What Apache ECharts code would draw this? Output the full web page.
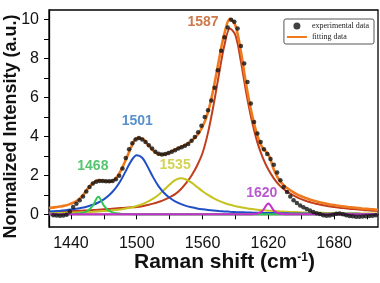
<!DOCTYPE html>
<html>
<head>
<meta charset="utf-8">
<script src="https://cdn.jsdelivr.net/npm/echarts@6/dist/echarts.min.js"></script>
<style>
  html, body { margin: 0; padding: 0; background: #fff; }
  #chart { width: 380px; height: 283px; }
</style>
</head>
<body>
<div id="chart"></div>
<script>
// Raman shift grid (cm-1) used by the fitted curves
const xs = [1420,1425,1430,1435,1440,1445,1450,1455,1460,1465,1470,1475,1480,1485,1490,1495,1500,1505,1510,1515,
  1520,1525,1530,1535,1540,1545,1550,1555,1560,1565,1570,1575,1580,1585,1590,1595,1600,1605,1610,1615,
  1620,1625,1630,1635,1640,1645,1650,1655,1660,1665,1670,1675,1680,1685,1690,1695,1700,1705,1710,1715,1720];

// fitted components
const peak1468 = [0.005,0.006,0.008,0.01,0.02,0.035,0.07,0.17,0.45,0.9,0.45,0.17,0.07,0.035,0.02,0.012,0.008,0.006,0.005,0.004,
  0.004,0.004,0.004,0.004,0.004,0.004,0.004,0.004,0.004,0.003,0.003,0.003,0.003,0.003,0.003,0.003,0.003,0.003,0.003,0.003,
  0.003,0.003,0.003,0.003,0.003,0.002,0.002,0.002,0.002,0.002,0.002,0.002,0.002,0.002,0.002,0.002,0.002,0.002,0.002,0.002,0.002];
const peak1501 = [0.144,0.162,0.184,0.211,0.244,0.286,0.338,0.405,0.493,0.61,0.77,0.99,1.29,1.70,2.22,2.75,3.04,2.91,2.44,1.90,
  1.44,1.10,0.85,0.67,0.536,0.437,0.363,0.305,0.26,0.224,0.194,0.17,0.151,0.134,0.12,0.108,0.098,0.089,0.081,0.074,
  0.068,0.063,0.058,0.054,0.05,0.047,0.044,0.041,0.039,0.036,0.034,0.032,0.031,0.029,0.028,0.026,0.025,0.024,0.023,0.022,0.021];
const peak1535 = [0.060,0.065,0.071,0.078,0.085,0.094,0.105,0.116,0.13,0.147,0.166,0.19,0.22,0.255,0.30,0.357,0.43,0.52,0.65,0.81,
  1.01,1.26,1.53,1.76,1.85,1.79,1.63,1.41,1.19,1.00,0.83,0.69,0.58,0.49,0.42,0.36,0.31,0.27,0.24,0.21,
  0.19,0.17,0.153,0.139,0.126,0.115,0.105,0.097,0.089,0.082,0.076,0.071,0.066,0.062,0.058,0.054,0.051,0.048,0.046,0.043,0.041];
const peak1587 = [0.12,0.13,0.14,0.15,0.16,0.175,0.19,0.20,0.22,0.24,0.26,0.28,0.30,0.32,0.34,0.36,0.38,0.42,0.48,0.55,
  0.64,0.74,0.88,1.04,1.28,1.6,2.0,2.5,3.15,4.2,5.6,7.2,8.7,9.55,9.2,7.85,6.2,4.8,3.7,2.9,
  2.3,1.85,1.5,1.25,1.06,0.91,0.78,0.68,0.59,0.53,0.47,0.42,0.38,0.34,0.31,0.28,0.26,0.23,0.21,0.19,0.17];
const peak1620 = [0,0,0,0,0,0,0,0,0,0,0,0,0,0,0,0,0,0,0,0,
  0,0,0,0,0,0,0,0,0,0,0,0,0,0,0,0,0,0.01,0.04,0.2,
  0.56,0.2,0.04,0.01,0,0,0,0,0,0,0,0,0,0,0,0,0,0,0,0,0];
const fitting = [0.33,0.36,0.40,0.45,0.55,0.68,0.92,1.3,1.6,1.76,1.72,1.68,1.8,2.2,2.8,3.45,3.92,3.9,3.6,3.28,
  3.08,3.08,3.2,3.33,3.46,3.6,3.78,4.05,4.5,5.25,6.45,7.95,9.3,10.05,9.7,8.35,6.6,5.15,4.05,3.38,
  3.1,2.3,1.75,1.45,1.24,1.07,0.93,0.82,0.72,0.65,0.58,0.52,0.48,0.43,0.40,0.36,0.34,0.30,0.28,0.26,0.23];

// experimental spectrum
const expX = [1424,1427,1430,1433,1436,1439,1442,1445,1448,1451,1454,1457,1460,1463,1466,1469,1472,1475,1478,1481,
  1484,1487,1490,1493,1496,1499,1502,1505,1508,1511,1514,1517,1520,1523,1526,1529,1532,1535,1538,1541,
  1544,1547,1550,1553,1556,1559,1562,1565,1568,1571,1574,1577,1580,1583,1586,1589,1592,1595,1598,1601,
  1604,1607,1610,1613,1616,1619,1622,1625,1628,1631,1634,1637,1640,1643,1646,1649,1652,1655,1658,1661,
  1664,1667,1670,1673,1676,1679,1682,1685,1688,1691,1694,1697,1700,1703,1706,1709,1712,1715,1718];
const expY = [-0.05,-0.06,-0.07,-0.06,-0.02,0.15,0.38,0.55,0.72,0.92,1.18,1.40,1.58,1.68,1.72,1.72,1.70,1.70,1.72,1.80,
  1.98,2.35,2.9,3.35,3.65,3.85,3.92,3.85,3.72,3.55,3.38,3.22,3.12,3.08,3.1,3.15,3.22,3.3,3.38,3.45,
  3.52,3.62,3.78,3.98,4.22,4.55,5.0,5.35,5.85,6.5,7.4,8.4,9.1,9.6,10.0,9.9,9.55,8.65,7.75,6.8,
  5.7,4.75,4.15,3.72,3.35,3.1,2.85,2.55,2.15,1.75,1.4,1.15,0.92,0.72,0.58,0.46,0.36,0.27,0.2,0.12,
  0.06,0.02,-0.04,-0.07,-0.06,-0.02,0.03,0.05,0.01,-0.04,-0.08,-0.1,-0.12,-0.12,-0.11,-0.1,-0.09,-0.07,-0.05];

// peak annotations (text, anchor in data coordinates)
const peakNames = ['1468', '1501', '1535', '1587', '1620'];
const peakLabelX = [1460, 1500.5, 1535, 1560.5, 1614];
const peakLabelY = [2.5, 4.77, 2.54, 9.9, 1.11];

const peakColors = ['#2cb54c', '#2e74c0', '#c9c72a', '#c0561e', '#a82fc2'];
const FONT = '"Liberation Sans", Arial, sans-serif';

const pair = (x, y) => x.map((v, i) => [v, y[i]]);

function component(name, data, color) {
  return {
    name, type: 'line', data: pair(xs, data), smooth: 0.35, symbol: 'none',
    lineStyle: { color, width: 2 }, itemStyle: { color }, z: 2
  };
}

const chart = echarts.init(document.getElementById('chart'));

chart.setOption({
  animation: false,
  grid: {
    left: 49, right: 2, top: 10, bottom: 56, outerBoundsMode: 'none',
    show: true, borderColor: '#000', borderWidth: 1.3
  },
  legend: {
    data: [
      { name: 'experimental data', icon: 'circle' },
      // thin bar centred in the icon box
      { name: 'fitting data', icon: 'path://M0,0h20v0.01h-20zM0,2.4h20v2.2h-20zM0,7h20v0.01h-20z' }
    ],
    orient: 'vertical', right: 6, top: 19,
    backgroundColor: '#fff', borderColor: '#555', borderWidth: 1, borderRadius: 2,
    padding: [3, 5, 3, 3], itemGap: 3, itemWidth: 20, itemHeight: 7,
    textStyle: { fontFamily: '"Liberation Serif", "Times New Roman", serif', fontSize: 8, color: '#222' }
  },
  xAxis: {
    type: 'value', min: 1420, max: 1720, splitNumber: 10, minInterval: 30, maxInterval: 30,
    axisLine: { lineStyle: { color: '#000', width: 1.3 } },
    axisTick: { show: true, inside: false, length: 5, lineStyle: { color: '#000', width: 1 } },
    axisLabel: {
      margin: 9, fontSize: 16, color: '#111', fontFamily: FONT,
      showMinLabel: false, showMaxLabel: false,
      formatter: v => (v % 60 === 0 ? String(v) : '')
    },
    splitLine: { show: false },
    name: '{b|Raman shift (cm}{s|-1}{b|)}',
    nameLocation: 'middle', nameGap: 25, nameMoveOverlap: false,
    nameTextStyle: {
      padding: [0, 0, 0, 22],
      rich: {
        b: { fontSize: 21, fontWeight: 'bold', fontFamily: FONT, color: '#111' },
        s: { fontSize: 12, fontWeight: 'bold', fontFamily: FONT, color: '#111', verticalAlign: 'top' }
      }
    }
  },
  yAxis: {
    type: 'value', min: -0.65, max: 10.5, splitNumber: 11, minInterval: 1, maxInterval: 1,
    axisLine: { show: true, lineStyle: { color: '#000', width: 1.3 } },
    axisTick: { show: true, inside: false, length: 5, lineStyle: { color: '#000', width: 1 } },
    axisLabel: {
      margin: 10, fontSize: 16, color: '#111', fontFamily: FONT,
      showMinLabel: false, showMaxLabel: false,
      formatter: v => (Number.isInteger(v) && v % 2 === 0 ? String(v) : '')
    },
    splitLine: { show: false },
    name: 'Normalized Intensity (a.u.)',
    nameLocation: 'middle', nameGap: 29, nameMoveOverlap: false,
    nameTextStyle: {
      fontSize: 18, fontWeight: 'bold', fontFamily: FONT, color: '#111',
      padding: [0, 16, 0, 0]
    }
  },
  series: [
    component('1587', peak1587, '#c23d1c'),
    component('1535', peak1535, '#c6c21f'),
    component('1501', peak1501, '#1f4fc6'),
    component('1468', peak1468, '#33c653'),
    component('1620', peak1620, '#c62fc9'),
    {
      name: 'fitting data', type: 'line', data: pair(xs, fitting), smooth: 0.35, symbol: 'none',
      lineStyle: { color: '#ef7a1e', width: 2.6 }, itemStyle: { color: '#ef7a1e' }, z: 3
    },
    {
      name: 'experimental data', type: 'scatter', data: pair(expX, expY),
      symbol: 'circle', symbolSize: 4.5, itemStyle: { color: '#111' }, z: 4
    },
    {
      name: 'peaks', type: 'scatter', silent: true, symbolSize: 0, z: 5,
      data: peakNames.map((n, i) => ({
        value: [peakLabelX[i], peakLabelY[i]], name: n,
        label: { color: peakColors[i] }
      })),
      label: {
        show: true, position: 'inside', formatter: p => p.name,
        fontSize: 14, fontWeight: 'bold', fontFamily: FONT
      }
    }
  ]
});
</script>
</body>
</html>
